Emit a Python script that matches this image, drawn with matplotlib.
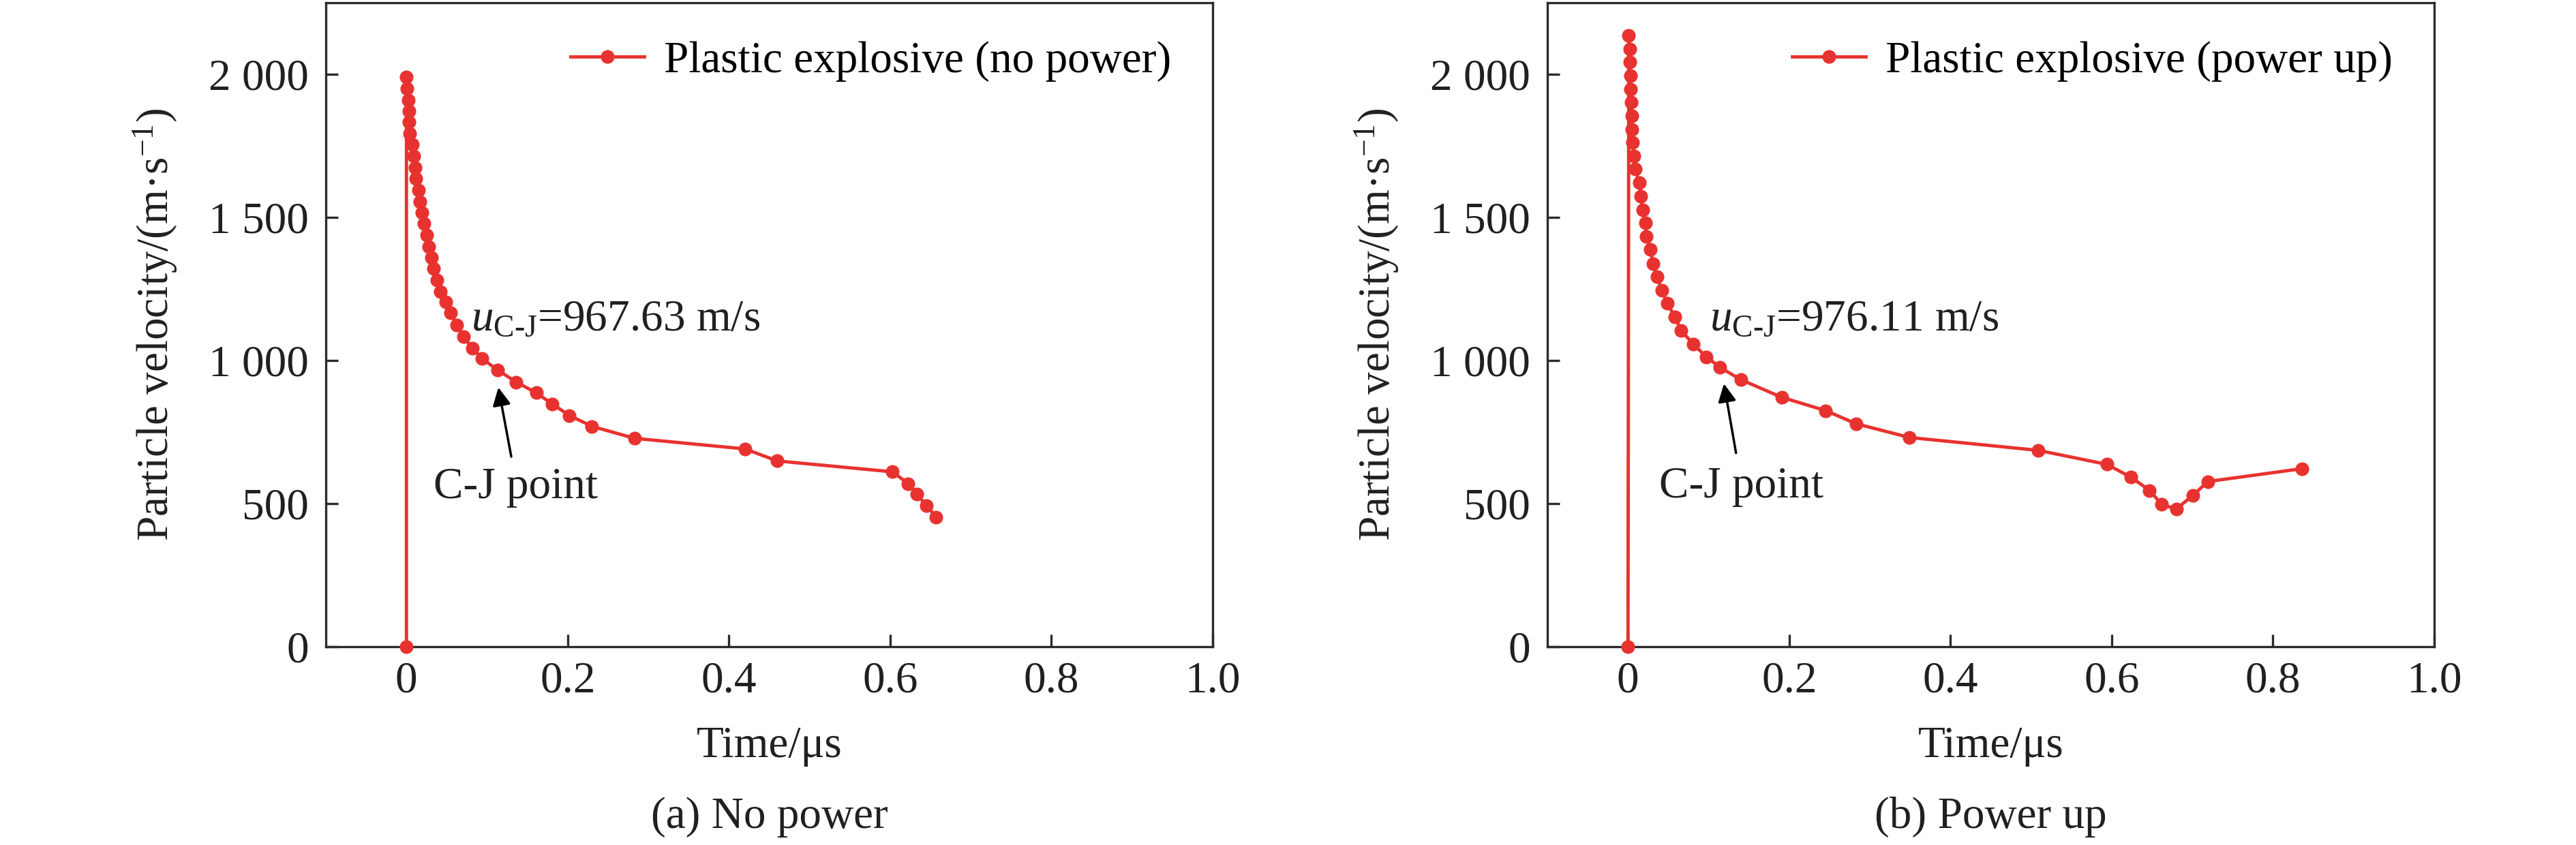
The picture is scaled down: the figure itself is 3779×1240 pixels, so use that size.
import matplotlib
matplotlib.use('Agg')
import matplotlib.pyplot as plt
import numpy as np

# 数据: 左图 (no power)
t_no = [0.0, 0.000, 0.001, 0.002, 0.003, 0.003, 0.004, 0.007, 0.009, 0.011, 0.012,
        0.015, 0.017, 0.019, 0.022, 0.025, 0.028, 0.031, 0.034, 0.038, 0.042,
        0.049, 0.055, 0.062, 0.071, 0.082, 0.094, 0.113, 0.136, 0.161, 0.181,
        0.202, 0.230, 0.283, 0.420, 0.460, 0.603, 0.622, 0.633, 0.645, 0.657]
v_no = [0, 1990, 1950, 1910, 1871, 1833, 1794, 1754, 1714, 1674, 1635,
        1595, 1555, 1516, 1478, 1438, 1398, 1359, 1321, 1281, 1241,
        1204, 1166, 1124, 1083, 1043, 1006, 967, 925, 887, 848,
        808, 770, 728, 691, 649, 611, 570, 533, 494, 453]

# 数据: 右图 (power up)
t_up = [0.0, 0.001, 0.002, 0.002, 0.003, 0.003, 0.004, 0.005, 0.005, 0.006, 0.007,
        0.009, 0.014, 0.016, 0.018, 0.022, 0.023, 0.028, 0.031, 0.036, 0.042,
        0.049, 0.058, 0.066, 0.081, 0.097, 0.114, 0.140, 0.191, 0.245, 0.283,
        0.349, 0.509, 0.594, 0.624, 0.647, 0.662, 0.680, 0.701, 0.719, 0.836]
v_up = [0, 2135, 2089, 2043, 1995, 1948, 1902, 1854, 1807, 1761, 1714,
        1668, 1621, 1573, 1525, 1480, 1433, 1387, 1339, 1293, 1245,
        1200, 1152, 1105, 1057, 1013, 976, 933, 871, 825, 779,
        731, 686, 637, 592, 546, 497, 481, 529, 577, 622]

x_ticks = [0, 0.2, 0.4, 0.6, 0.8, 1.0]
x_ticklabels = ['0', '0.2', '0.4', '0.6', '0.8', '1.0']
y_ticks = [0, 500, 1000, 1500, 2000]
y_ticklabels = ['0', '500', '1 000', '1 500', '2 000']

legend_labels = ['Plastic explosive (no power)', 'Plastic explosive (power up)']
cj_labels = [r'$u_{\text{C-J}}$=967.63 m/s', r'$u_{\text{C-J}}$=976.11 m/s']
captions = ['(a) No power', '(b) Power up']

# 字体
plt.rcParams['font.family'] = ['Liberation Serif', 'DejaVu Serif']
plt.rcParams['mathtext.fontset'] = 'custom'
plt.rcParams['mathtext.rm'] = 'Liberation Serif'
plt.rcParams['mathtext.it'] = 'Liberation Serif:italic'
plt.rcParams['mathtext.bf'] = 'Liberation Serif:bold'

FS = 47
RED = '#e8322f'
DARK = '#2b2b2b'
TXT = '#231f20'

fig = plt.figure(figsize=(37.8, 12.4), dpi=100)
W, H = 3780.0, 1240.0

panels = [
    dict(left=478, t=t_no, v=v_no, text_x=0.080, cj_text=(0.034, 518),
         arrow_tail=(0.130, 664), arrow_tip=(0.114, 906)),
    dict(left=2270, t=t_up, v=v_up, text_x=0.101, cj_text=(0.039, 521),
         arrow_tail=(0.134, 677), arrow_tip=(0.119, 919)),
]

for i, p in enumerate(panels):
    ax = fig.add_axes([p['left'] / W, (H - 949) / H, 1301 / W, 945 / H])

    ax.plot(p['t'], p['v'], color=RED, lw=3.5, marker='o', ms=13.5,
            label=legend_labels[i], clip_on=False, zorder=5)

    ax.set_xlim(-0.1, 1.0)
    ax.set_ylim(0, 2250)
    ax.set_xticks(x_ticks)
    ax.set_xticklabels(x_ticklabels)
    ax.set_yticks(y_ticks)
    ax.set_yticklabels(y_ticklabels)

    ax.tick_params(direction='in', length=13, width=2.4, color=DARK,
                   labelsize=FS, labelcolor=TXT)
    ax.tick_params(axis='y', pad=18)
    ax.tick_params(axis='x', pad=15)
    for spine in ax.spines.values():
        spine.set_linewidth(2.4)
        spine.set_color(DARK)

    # 图例
    ax.legend(loc='center left', bbox_to_anchor=(0.276, 0.909), frameon=False,
              fontsize=FS, numpoints=1, handlelength=1.65, handletextpad=0.45,
              borderpad=0, borderaxespad=0)

    # C-J 点标注
    ax.text(p['text_x'], 1105, cj_labels[i], fontsize=FS, color=TXT,
            ha='left', va='baseline')
    ax.text(p['cj_text'][0], p['cj_text'][1], 'C-J point', fontsize=FS,
            color=TXT, ha='left', va='baseline')
    ax.annotate('', xy=p['arrow_tip'], xytext=p['arrow_tail'],
                arrowprops=dict(arrowstyle='-|>', color='k', lw=2.5,
                                mutation_scale=40, shrinkA=0, shrinkB=0))

    cx = (p['left'] + 1301 / 2) / W
    fig.text(cx, 1 - 1095 / H, 'Time/μs', fontsize=FS, ha='center', va='center',
             color=TXT)
    fig.text(cx, 1 - 1199 / H, captions[i], fontsize=FS, ha='center', va='center',
             color=TXT)
    fig.text((p['left'] - 250) / W, 1 - 476 / H, 'Particle velocity/(m·s$^{-1}$)',
             fontsize=FS, rotation=90, ha='center', va='center', color=TXT)

fig.savefig('out.png', dpi=100, facecolor='white')
